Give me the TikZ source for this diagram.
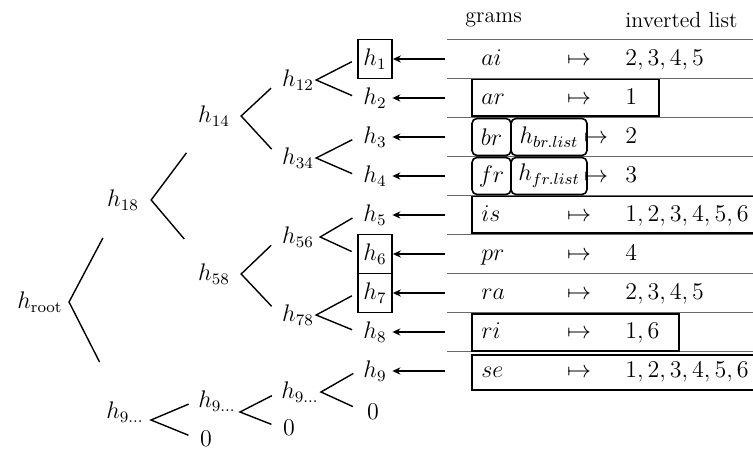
\documentclass[tikz,border=0pt]{standalone}
\usetikzlibrary{arrows.meta}
\definecolor{rulegray}{RGB}{105,105,105}
\tikzset{
  tn/.style={inner sep=1pt},
  leaf/.style={minimum width=17pt,minimum height=19.5pt,inner sep=0pt},
  boxed/.style={draw,line width=0.9pt},
  cell/.style={anchor=west,inner sep=0pt,text height=8.5pt,text depth=2.5pt},
  mapc/.style={inner sep=0pt,text height=8.5pt,text depth=2.5pt},
  gbox/.style={draw,line width=0.8pt,rounded corners=2.5pt,minimum height=18.5pt,inner sep=0pt},
  rowbox/.style={draw,line width=0.9pt},
  hrule/.style={draw=rulegray,line width=0.7pt},
  branch/.style={line width=0.7pt,shorten <=3pt,shorten >=3pt},
  arr/.style={-{Stealth[length=4pt,width=3.6pt]},line width=0.75pt},
  head/.style={anchor=west,inner sep=0pt,font=\fontsize{11}{13}\selectfont},
}

\begin{document}
\begin{tikzpicture}[x=0.5pt,y=-0.5pt,font=\fontsize{12}{14}\selectfont]
  \useasboundingbox (0,0) rectangle (753,450);

  % leaves
  \node[leaf,boxed] (h1) at (375,59) {$h_1$};
  \node[leaf] (h2) at (375,98) {$h_2$};
  \node[leaf] (h3) at (375,137) {$h_3$};
  \node[leaf] (h4) at (375,176) {$h_4$};
  \node[leaf] (h5) at (375,215) {$h_5$};
  \node[leaf,boxed] (h6) at (375,254) {$h_6$};
  \node[leaf,boxed] (h7) at (375,293) {$h_7$};
  \node[leaf] (h8) at (375,332) {$h_8$};
  \node[leaf] (h9) at (375,371) {$h_9$};
  \node[tn] (z9) at (373,412) {$0$};

  % inner levels
  \node[tn] (h12) at (298,80) {$h_{12}$};
  \node[tn] (h34) at (298,158) {$h_{34}$};
  \node[tn] (h56) at (298,237) {$h_{56}$};
  \node[tn] (h78) at (298,315) {$h_{78}$};
  \node[tn] (h14) at (214,116) {$h_{14}$};
  \node[tn] (h58) at (214,274) {$h_{58}$};
  \node[tn] (h18) at (123,200) {$h_{18}$};
  \node[tn] (hroot) at (40,302) {$h_{\mathrm{root}}$};

  % padding branch
  \node[tn] (hx1) at (125,412) {$h_{9\ldots}$};
  \node[tn] (z1) at (206,439) {$0$};
  \node[tn] (hx2) at (217,401) {$h_{9\ldots}$};
  \node[tn] (z2) at (289,428) {$0$};
  \node[tn] (hx3) at (300,392) {$h_{9\ldots}$};

  % branches
  \draw[branch] (h1.west) -- (h12.east) -- (h2.west);
  \draw[branch] (h3.west) -- (h34.east) -- (h4.west);
  \draw[branch] (h5.west) -- ([xshift=2pt]h56.east) -- (h6.west);
  \draw[branch] (h7.west) -- (h78.east) -- (h8.west);
  \draw[branch,shorten <=6pt,shorten >=6pt] (h12.west) -- ([xshift=4.5pt]h14.east) -- (h34.west);
  \draw[branch,shorten <=6pt,shorten >=6pt] (h56.west) -- ([xshift=4.5pt]h58.east) -- (h78.west);
  \draw[branch,shorten <=23pt,shorten >=23pt] (h14.center) -- ([xshift=5pt]h18.east) -- (h58.center);
  \draw[branch,shorten <=21.5pt,shorten >=28pt] (h18.center) -- ([xshift=2pt]hroot.east) -- (hx1.center);
  \draw[branch,shorten <=4pt,shorten >=5pt] (hx2.west) -- ([shift={(2.5pt,-4pt)}]hx1.east) -- (z1.west);
  \draw[branch,shorten <=4pt,shorten >=5pt] (hx3.west) -- ([shift={(1pt,-5.5pt)}]hx2.east) -- (z2.west);
  \draw[branch,shorten <=2.5pt,shorten >=6.5pt] (h9.west) -- (hx3.east) -- (z9.west);

  % table
  \node[head] (hgram) at (465,20) {grams};
  \node[head] (hlist) at (625,20) {inverted list};
  \draw[hrule] (447,39.5) -- (753,39.5);
  \draw[hrule] (447,78.5) -- (753,78.5);
  \draw[hrule] (447,117.5) -- (753,117.5);
  \draw[hrule] (447,156.5) -- (753,156.5);
  \draw[hrule] (447,195.5) -- (753,195.5);
  \draw[hrule] (447,234.5) -- (753,234.5);
  \draw[hrule] (447,273.5) -- (753,273.5);
  \draw[hrule] (447,312.5) -- (753,312.5);
  \draw[hrule] (447,351.5) -- (753,351.5);

  \node[cell] (gai) at (481,59) {$ai$};
  \node[mapc] (mai) at (579,59) {$\mapsto$};
  \node[cell] (lai) at (625,59) {$2, 3, 4, 5$};
  \node[cell] (gar) at (481,98) {$ar$};
  \node[mapc] (mar) at (579,98) {$\mapsto$};
  \node[cell] (lar) at (625,98) {$1$};
  \node[gbox,minimum width=19.5pt] (gbr) at (491.5,137) {$br$};
  \node[gbox,minimum width=38pt] (hbr) at (549,137) {$h_{br.list}$};
  \node[mapc] (mbr) at (596,137) {$\mapsto$};
  \node[cell] (lbr) at (625,137) {$2$};
  \node[gbox,minimum width=19.5pt] (gfr) at (491.5,176) {$fr$};
  \node[gbox,minimum width=38pt] (hfr) at (549,176) {$h_{fr.list}$};
  \node[mapc] (mfr) at (596,176) {$\mapsto$};
  \node[cell] (lfr) at (625,176) {$3$};
  \node[cell] (gis) at (481,215) {$is$};
  \node[mapc] (mis) at (579,215) {$\mapsto$};
  \node[cell] (lis) at (625,215) {$1, 2, 3, 4, 5, 6$};
  \node[cell] (gpr) at (481,254) {$pr$};
  \node[mapc] (mpr) at (579,254) {$\mapsto$};
  \node[cell] (lpr) at (625,254) {$4$};
  \node[cell] (gra) at (481,293) {$ra$};
  \node[mapc] (mra) at (579,293) {$\mapsto$};
  \node[cell] (lra) at (625,293) {$2, 3, 4, 5$};
  \node[cell] (gri) at (481,332) {$ri$};
  \node[mapc] (mri) at (579,332) {$\mapsto$};
  \node[cell] (lri) at (625,332) {$1, 6$};
  \node[cell] (gse) at (481,371) {$se$};
  \node[mapc] (mse) at (579,371) {$\mapsto$};
  \node[cell] (lse) at (625,371) {$1, 2, 3, 4, 5, 6$};

  % highlighted rows
  \draw[rowbox] (472,79.5) rectangle (659,116);
  \draw[rowbox] (472,196.5) rectangle (757,233);
  \draw[rowbox] (472,314) rectangle (679,351);
  \draw[rowbox] (472,355) rectangle (757,390);

  % row pointers
  \coordinate (r1) at (445,59);
  \coordinate (r2) at (445,98);
  \coordinate (r3) at (445,137);
  \coordinate (r4) at (445,176);
  \coordinate (r5) at (445,215);
  \coordinate (r6) at (445,254);
  \coordinate (r7) at (445,293);
  \coordinate (r8) at (445,332);
  \coordinate (r9) at (445,371);
  \draw[arr] (r1) -- (h1.east);
  \draw[arr] (r2) -- (h2.east);
  \draw[arr] (r3) -- (h3.east);
  \draw[arr] (r4) -- (h4.east);
  \draw[arr] (r5) -- (h5.east);
  \draw[arr] (r6) -- (h6.east);
  \draw[arr] (r7) -- (h7.east);
  \draw[arr] (r8) -- (h8.east);
  \draw[arr] (r9) -- (h9.east);
\end{tikzpicture}
\end{document}
